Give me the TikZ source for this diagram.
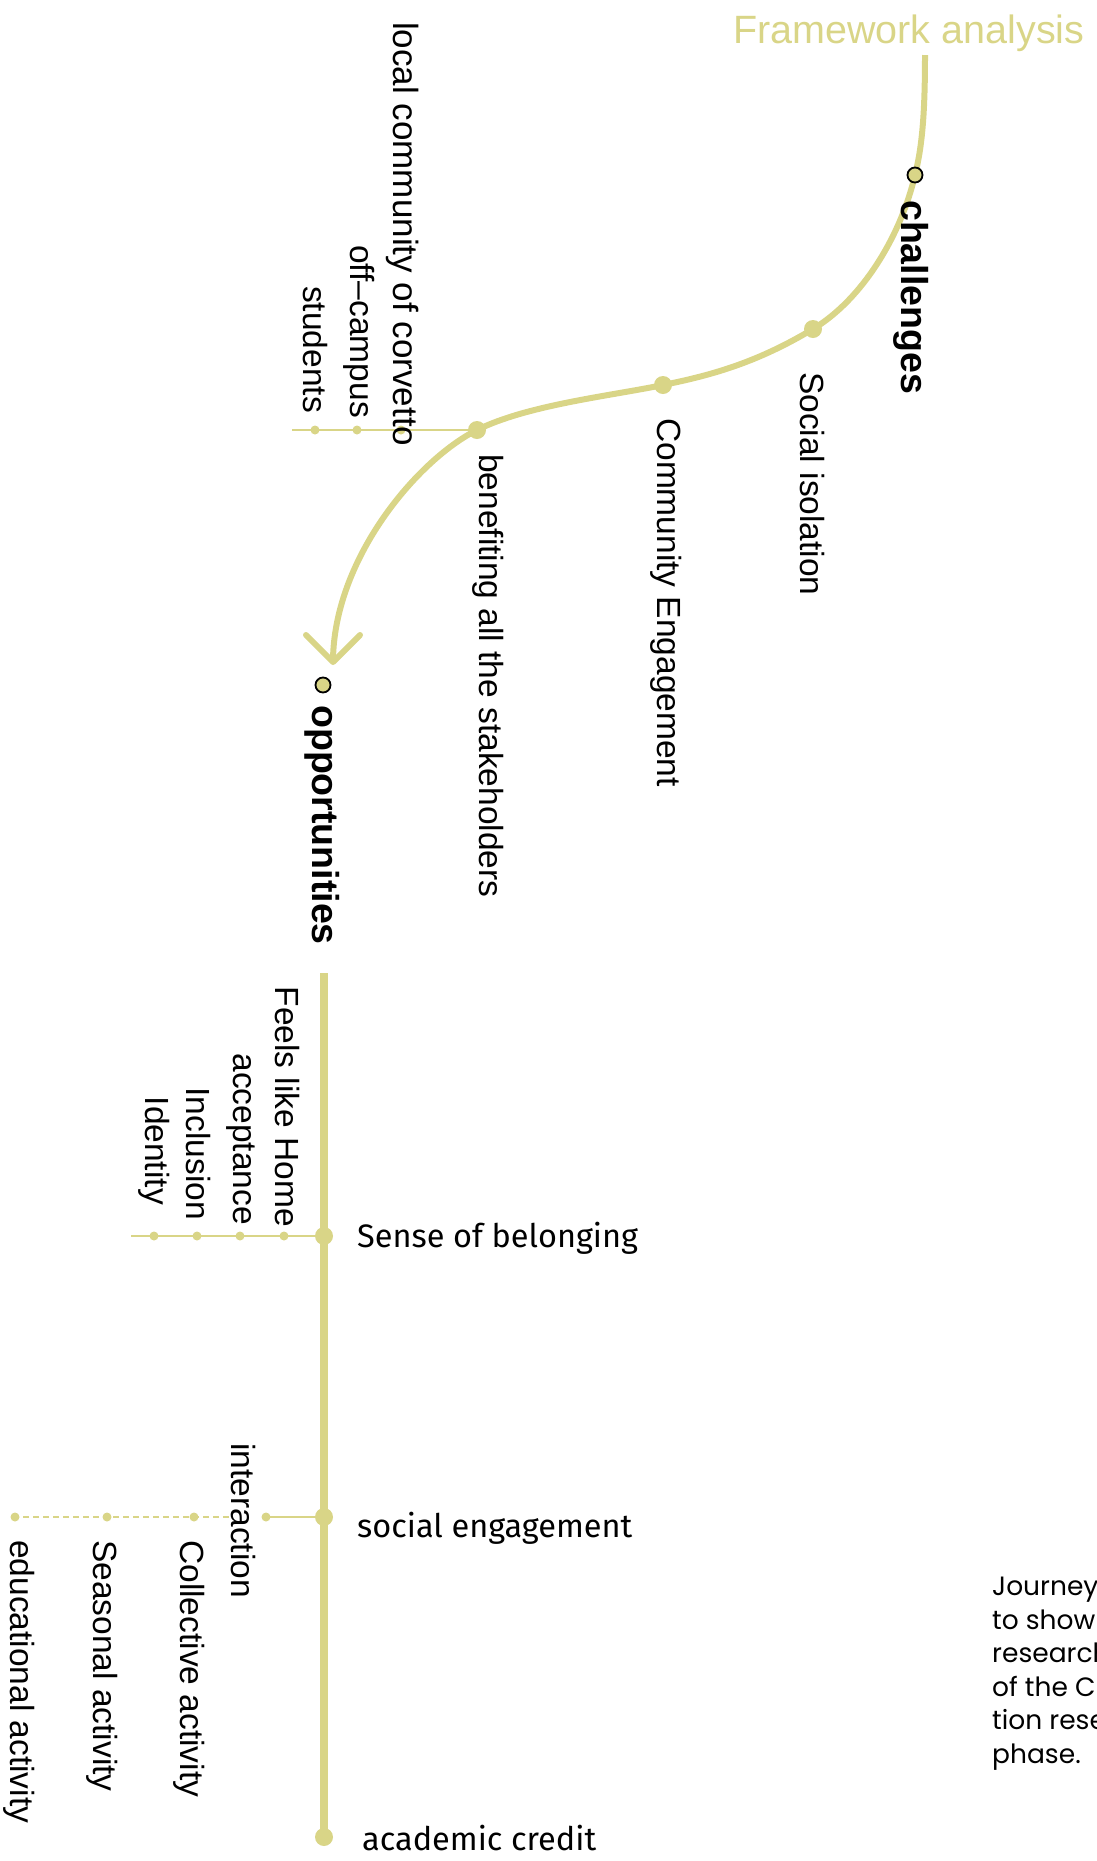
\documentclass[tikz,border=0pt]{standalone}
\usepackage{fontspec}
\setmainfont{Liberation Sans}
\newfontfamily\stemfont{Fira Sans}
\newfontfamily\notefont{Poppins}
\definecolor{khaki}{RGB}{217,213,135}

\begin{document}
\begin{tikzpicture}[x=1pt, y=-1pt,
  track/.style={draw=khaki, line width=6pt, line join=round},
  barb/.style={draw=khaki, line width=6pt, line cap=round, line join=round},
  spine/.style={draw=khaki, line width=8pt},
  twig/.style={draw=khaki, line width=2.5pt},
  dashtwig/.style={twig, dash pattern=on 6pt off 4pt},
  bigdot/.style={circle, fill=khaki, minimum size=18pt, inner sep=0pt},
  smalldot/.style={circle, fill=khaki, minimum size=9pt, inner sep=0pt},
  keydot/.style={circle, fill=khaki, draw=black, line width=1.8pt, minimum size=15pt, inner sep=0pt},
  vtext/.style={rotate=-90, inner sep=0pt, font=\fontsize{33.5}{40}\selectfont},
  vkey/.style={rotate=-90, inner sep=0pt, anchor=base west, font=\bfseries\fontsize{37.5}{44}\selectfont},
  htext/.style={inner sep=0pt, anchor=base west, font=\stemfont\fontsize{32.5}{39}\selectfont},
]
\useasboundingbox (0,0) rectangle (1097,1861);
\clip (0,0) rectangle (1097,1861);

% points along the curved path
\coordinate (top)  at (925,55);
\coordinate (chal) at (915,175);
\coordinate (soc)  at (813,329);
\coordinate (comm) at (663,385);
\coordinate (bene) at (477,430);
\coordinate (tip)  at (333,662);
\coordinate (opp)  at (323,685);

% points on the straight spine
\coordinate (spinetop) at (324,973);
\coordinate (belong)   at (324,1236);
\coordinate (engage)   at (324,1517);
\coordinate (credit)   at (324,1837);

% side branches
\coordinate (corv1) at (401,430);
\coordinate (corv2) at (357,430);
\coordinate (corv3) at (315,430);
\coordinate (corvend) at (292,430);
\coordinate (bel1) at (284,1236);
\coordinate (bel2) at (240,1236);
\coordinate (bel3) at (197,1236);
\coordinate (bel4) at (154,1236);
\coordinate (belend) at (131,1236);
\coordinate (eng0) at (266,1517);
\coordinate (engdash) at (229,1517);
\coordinate (eng1) at (194,1517);
\coordinate (eng2) at (107,1517);
\coordinate (eng3) at (15,1517);

% curved path from challenges to opportunities
\draw[track] (top) .. controls (925,115) and (922,147) .. (chal)
  .. controls (901,235) and (863,299) .. (soc)
  .. controls (758,362) and (713,375) .. (comm)
  .. controls (610,396) and (527,405) .. (bene)
  .. controls (417,460) and (333,560) .. (tip);
\draw[barb] (tip) ++(-27,-27) -- (tip) -- ++(27,-27);

% spine and branches
\draw[spine] (spinetop) -- (credit);
\draw[twig] (bene) -- (corvend);
\draw[twig] (belong) -- (belend);
\draw[twig] (engage) -- (eng0);
\draw[dashtwig] (engdash) -- (eng3);

% dots
\node[keydot] (chaldot) at (chal) {};
\node[keydot] (oppdot) at (opp) {};
\foreach \p in {soc,comm,bene,belong,engage,credit}
  \node[bigdot] (\p dot) at (\p) {};
\foreach \p in {corv1,corv2,corv3,bel1,bel2,bel3,bel4,eng0,eng1,eng2,eng3}
  \node[smalldot] (\p dot) at (\p) {};

% title
\node[inner sep=0pt, anchor=base west, text=khaki, font=\fontsize{39.5}{46}\selectfont]
  (title) at (733,43) {Framework analysis};

% labels along the curve
\node[vkey] (chaltext) at (901,200) {challenges};
\node[vtext, anchor=base west] (soctext) at (800,372) {Social isolation};
\node[vtext, anchor=base west] (commtext) at (657,418) {Community Engagement};
\node[vtext, anchor=base west] (benetext) at (479,454) {benefiting all the stakeholders};
\node[vkey] (opptext) at (312,705) {opportunities};
\node[vtext, anchor=base west, font=\fontsize{35}{42}\selectfont] (corv1text) at (393,22) {local community of corvetto};
\node[vtext, anchor=base east] (corv2text) at (350,418) {off–campus};
\node[vtext, anchor=base east] (corv3text) at (303,413) {students};

% labels on the spine
\node[htext] (belongtext) at (357,1247) {Sense of belonging};
\node[htext] (engagetext) at (357,1537) {social engagement};
\node[htext] (credittext) at (362,1850) {academic credit};

\node[vtext, anchor=base east] (bel1text) at (275,1227) {Feels like Home};
\node[vtext, anchor=base east] (bel2text) at (233,1225) {acceptance};
\node[vtext, anchor=base east] (bel3text) at (186,1220) {Inclusion};
\node[vtext, anchor=base east] (bel4text) at (145,1205) {Identity};

\node[vtext, anchor=base west] (eng0text) at (231,1443) {interaction};
\node[vtext, anchor=base west] (eng1text) at (180,1540) {Collective activity};
\node[vtext, anchor=base west] (eng2text) at (93,1540) {Seasonal activity};
\node[vtext, anchor=base west] (eng3text) at (10,1540) {educational activity};

% caption
\node[anchor=north west, inner sep=0pt, align=left, font=\notefont\fontsize{26.5}{33.5}\selectfont]
  (caption) at (992,1577) {Journey\\to show\\research\\of the C\\tion rese\\phase.};
\end{tikzpicture}
\end{document}
